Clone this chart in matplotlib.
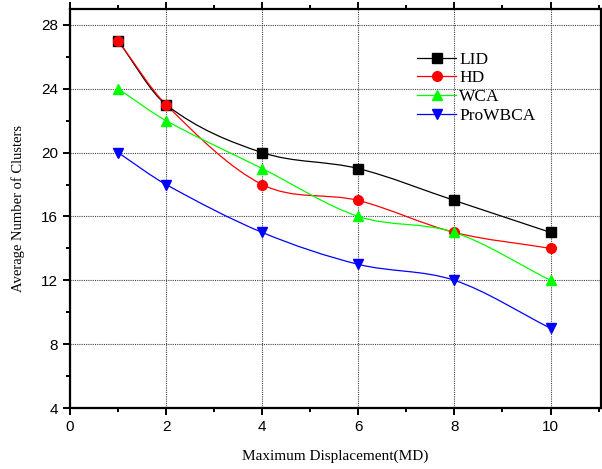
import numpy as np
import matplotlib
matplotlib.use("Agg")
import matplotlib.pyplot as plt
from matplotlib.path import Path
from matplotlib.patches import PathPatch
from matplotlib.lines import Line2D
from matplotlib.ticker import MultipleLocator

# values
md = [1, 2, 4, 6, 8, 10]
lid = [27, 23, 20, 19, 17, 15]
hd = [27, 23, 18, 17, 15, 14]
wca = [24, 22, 19, 16, 15, 12]
prowbca = [20, 18, 15, 13, 12, 9]

series = [
    ("LID", lid, "black", "s"),
    ("HD", hd, "red", "o"),
    ("WCA", wca, "#00ff00", "^"),
    ("ProWBCA", prowbca, "blue", "v"),
]


def smooth_path(x, y):
    # cubic hermite through the points, as bezier segments
    x = np.asarray(x, float)
    y = np.asarray(y, float)
    n = len(x)
    m = np.zeros(n)
    for i in range(n):
        if i == 0:
            m[i] = (y[1] - y[0]) / (x[1] - x[0])
        elif i == n - 1:
            m[i] = (y[-1] - y[-2]) / (x[-1] - x[-2])
        else:
            m[i] = (y[i + 1] - y[i - 1]) / (x[i + 1] - x[i - 1])
    verts = [(x[0], y[0])]
    codes = [Path.MOVETO]
    for i in range(n - 1):
        dx = (x[i + 1] - x[i]) / 3.0
        verts += [(x[i] + dx, y[i] + dx * m[i]),
                  (x[i + 1] - dx, y[i + 1] - dx * m[i + 1]),
                  (x[i + 1], y[i + 1])]
        codes += [Path.CURVE4] * 3
    return Path(verts, codes)


fig = plt.figure(figsize=(6.02, 4.69), dpi=100)
ax = fig.add_axes([0.1163, 0.130, 0.882, 0.851])

handles = []
for name, vals, col, mk in series:
    ax.add_patch(PathPatch(smooth_path(md, vals), facecolor="none",
                           edgecolor=col, lw=0.9, zorder=3))
    ax.plot(md, vals, linestyle="none", marker=mk, color=col,
            markersize=7, zorder=4)
    handles.append(Line2D([], [], color=col, lw=0.9, marker=mk,
                          markersize=7, label=name))

ax.set_xlim(0, 11.05)
ax.set_ylim(4, 29)
ax.xaxis.set_major_locator(MultipleLocator(2))
ax.xaxis.set_minor_locator(MultipleLocator(1))
ax.yaxis.set_major_locator(MultipleLocator(4))
ax.yaxis.set_minor_locator(MultipleLocator(2))
ax.grid(True, which="major", linestyle=(0, (1, 1)), color="#444444", lw=0.8)
ax.set_axisbelow(True)

for sp in ax.spines.values():
    sp.set_linewidth(1.6)
ax.tick_params(which="both", direction="out", width=1.4,
               top=True, right=True, labelsize=11)
ax.tick_params(which="major", length=5)
ax.tick_params(which="minor", length=3)
for lab in ax.get_xticklabels() + ax.get_yticklabels():
    lab.set_family("Liberation Sans")

ax.set_xlabel("Maximum Displacement(MD)", family="Liberation Serif",
              fontsize=11, labelpad=11)
ax.set_ylabel("Average Number of Clusters", family="Liberation Serif",
              fontsize=10.5, labelpad=12)

ax.legend(handles=handles, loc="upper left", bbox_to_anchor=(0.638, 0.915),
          frameon=False, prop={"family": "Liberation Serif", "size": 12.5},
          handlelength=2.2, handletextpad=0.2, labelspacing=0.15,
          borderpad=0)

fig.savefig("out.png", dpi=100)
